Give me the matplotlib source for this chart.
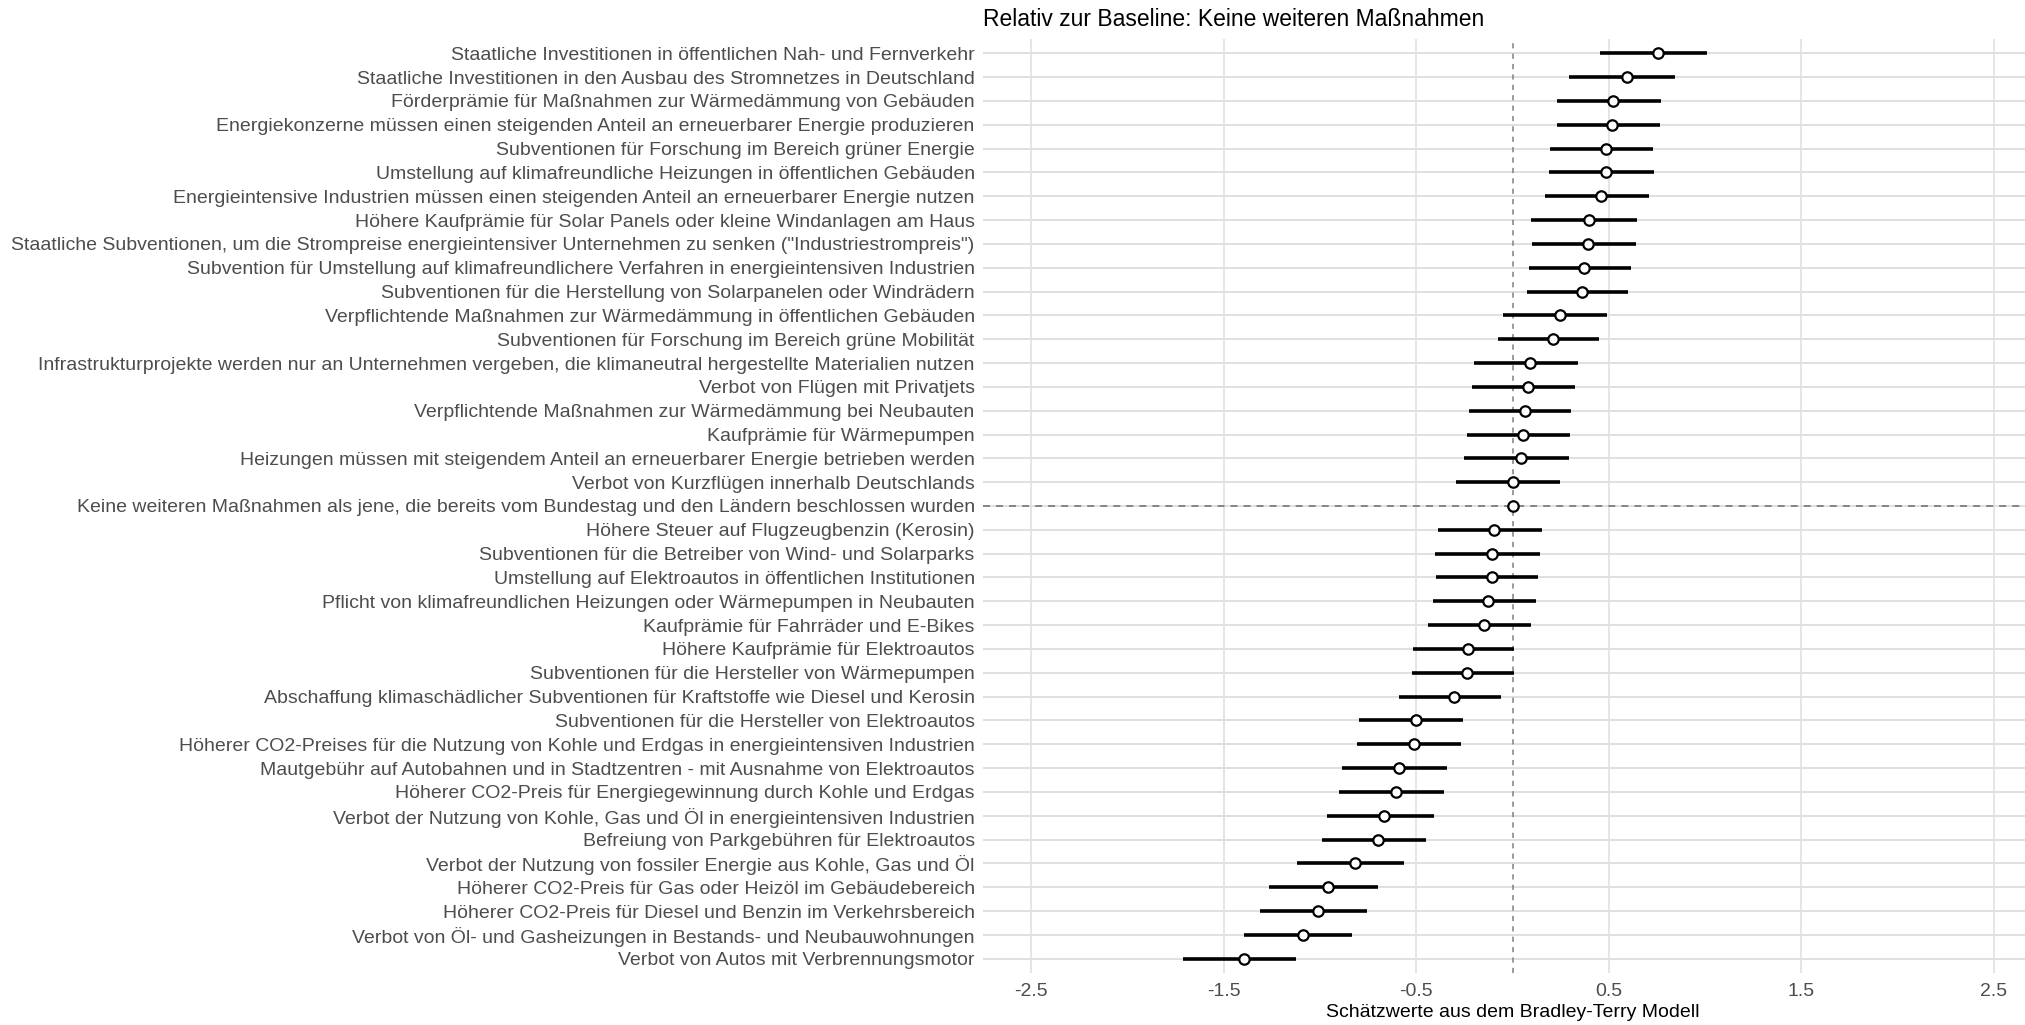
import numpy as np
import matplotlib
matplotlib.use("Agg")
import matplotlib.pyplot as plt

labels = [
    "Staatliche Investitionen in öffentlichen Nah- und Fernverkehr",
    "Staatliche Investitionen in den Ausbau des Stromnetzes in Deutschland",
    "Förderprämie für Maßnahmen zur Wärmedämmung von Gebäuden",
    "Energiekonzerne müssen einen steigenden Anteil an erneuerbarer Energie produzieren",
    "Subventionen für Forschung im Bereich grüner Energie",
    "Umstellung auf klimafreundliche Heizungen in öffentlichen Gebäuden",
    "Energieintensive Industrien müssen einen steigenden Anteil an erneuerbarer Energie nutzen",
    "Höhere Kaufprämie für Solar Panels oder kleine Windanlagen am Haus",
    "Staatliche Subventionen, um die Strompreise energieintensiver Unternehmen zu senken (\"Industriestrompreis\")",
    "Subvention für Umstellung auf klimafreundlichere Verfahren in energieintensiven Industrien",
    "Subventionen für die Herstellung von Solarpanelen oder Windrädern",
    "Verpflichtende Maßnahmen zur Wärmedämmung in öffentlichen Gebäuden",
    "Subventionen für Forschung im Bereich grüne Mobilität",
    "Infrastrukturprojekte werden nur an Unternehmen vergeben, die klimaneutral hergestellte Materialien nutzen",
    "Verbot von Flügen mit Privatjets",
    "Verpflichtende Maßnahmen zur Wärmedämmung bei Neubauten",
    "Kaufprämie für Wärmepumpen",
    "Heizungen müssen mit steigendem Anteil an erneuerbarer Energie betrieben werden",
    "Verbot von Kurzflügen innerhalb Deutschlands",
    "Keine weiteren Maßnahmen als jene, die bereits vom Bundestag und den Ländern beschlossen wurden",
    "Höhere Steuer auf Flugzeugbenzin (Kerosin)",
    "Subventionen für die Betreiber von Wind- und Solarparks",
    "Umstellung auf Elektroautos in öffentlichen Institutionen",
    "Pflicht von klimafreundlichen Heizungen oder Wärmepumpen in Neubauten",
    "Kaufprämie für Fahrräder und E-Bikes",
    "Höhere Kaufprämie für Elektroautos",
    "Subventionen für die Hersteller von Wärmepumpen",
    "Abschaffung klimaschädlicher Subventionen für Kraftstoffe wie Diesel und Kerosin",
    "Subventionen für die Hersteller von Elektroautos",
    "Höherer CO2-Preises für die Nutzung von Kohle und Erdgas in energieintensiven Industrien",
    "Mautgebühr auf Autobahnen und in Stadtzentren - mit Ausnahme von Elektroautos",
    "Höherer CO2-Preis für Energiegewinnung durch Kohle und Erdgas",
    "Verbot der Nutzung von Kohle, Gas und Öl in energieintensiven Industrien",
    "Befreiung von Parkgebühren für Elektroautos",
    "Verbot der Nutzung von fossiler Energie aus Kohle, Gas und Öl",
    "Höherer CO2-Preis für Gas oder Heizöl im Gebäudebereich",
    "Höherer CO2-Preis für Diesel und Benzin im Verkehrsbereich",
    "Verbot von Öl- und Gasheizungen in Bestands- und Neubauwohnungen",
    "Verbot von Autos mit Verbrennungsmotor",
]

estimate = [0.755, 0.594, 0.524, 0.519, 0.486, 0.484, 0.462, 0.396, 0.394, 0.373,
            0.359, 0.247, 0.210, 0.092, 0.078, 0.063, 0.052, 0.043, 0.000, 0.000,
            -0.094, -0.106, -0.108, -0.125, -0.149, -0.233, -0.234, -0.302, -0.503, -0.512,
            -0.592, -0.604, -0.665, -0.699, -0.819, -0.958, -1.011, -1.089, -1.393]
lower = [0.453, 0.293, 0.231, 0.231, 0.194, 0.188, 0.167, 0.095, 0.101, 0.085,
         0.073, -0.047, -0.076, -0.200, -0.210, -0.226, -0.238, -0.253, -0.292, np.nan,
         -0.389, -0.401, -0.396, -0.413, -0.441, -0.519, -0.524, -0.589, -0.795, -0.810,
         -0.887, -0.899, -0.966, -0.990, -1.117, -1.263, -1.313, -1.394, -1.711]
upper = [1.012, 0.844, 0.771, 0.766, 0.731, 0.733, 0.710, 0.646, 0.641, 0.618,
         0.602, 0.491, 0.451, 0.339, 0.323, 0.306, 0.297, 0.292, 0.247, np.nan,
         0.155, 0.141, 0.134, 0.120, 0.095, 0.007, 0.009, -0.059, -0.257, -0.266,
         -0.342, -0.356, -0.410, -0.450, -0.566, -0.701, -0.755, -0.831, -1.124]

xticks = [-2.5, -1.5, -0.5, 0.5, 1.5, 2.5]
xtick_labels = ["-2.5", "-1.5", "-0.5", "0.5", "1.5", "2.5"]
baseline_label = "Keine weiteren Maßnahmen als jene, die bereits vom Bundestag und den Ländern beschlossen wurden"

plt.rcParams['font.family'] = ['Liberation Sans', 'DejaVu Sans']

fig = plt.figure(figsize=(20.25, 10.25), dpi=100)
ax = fig.add_axes([983 / 2025, 52 / 1025, 1059 / 2025, 934 / 1025])

n = len(labels)
y = np.arange(n)
est = np.array(estimate)
lo = np.array(lower)
hi = np.array(upper)

ax.set_xlim(-2.75, 2.75)
ax.set_ylim(n - 1 + 0.6, -0.6)

ax.set_yticks(y)
ax.set_yticklabels(labels)
ax.set_xticks(xticks)
ax.set_xticklabels(xtick_labels)

for s in ax.spines.values():
    s.set_visible(False)
ax.tick_params(axis='both', length=0, labelsize=14, labelcolor='#4d4d4d')
ax.tick_params(axis='y', pad=6)
ax.tick_params(axis='x', pad=7)

ax.grid(axis='y', color='#e0e0e0', linewidth=1.4, zorder=0)
ax.grid(axis='x', color='#e3e3e3', linewidth=1.3, zorder=0)
ax.set_axisbelow(True)

bi = labels.index(baseline_label)
ax.axhline(y[bi], color='#858585', linestyle=(0, (3.6, 3.1)), linewidth=1.4, zorder=1)
ax.axvline(0, color='#808080', linestyle=(0, (3.4, 3.4)), linewidth=1.1, zorder=1)

ax.hlines(y, lo, hi, color='black', linewidth=2.6, zorder=2)
ax.plot(est, y, 'o', markersize=7.5, markerfacecolor='white',
        markeredgecolor='black', markeredgewidth=1.6, zorder=3, linestyle='none')

ax.set_xlabel("Schätzwerte aus dem Bradley-Terry Modell", fontsize=14, color='black', labelpad=3)
ax.set_title("Relativ zur Baseline: Keine weiteren Maßnahmen", loc='left', fontsize=16.5,
             color='black', pad=9)

fig.savefig("out.png", dpi=100)
